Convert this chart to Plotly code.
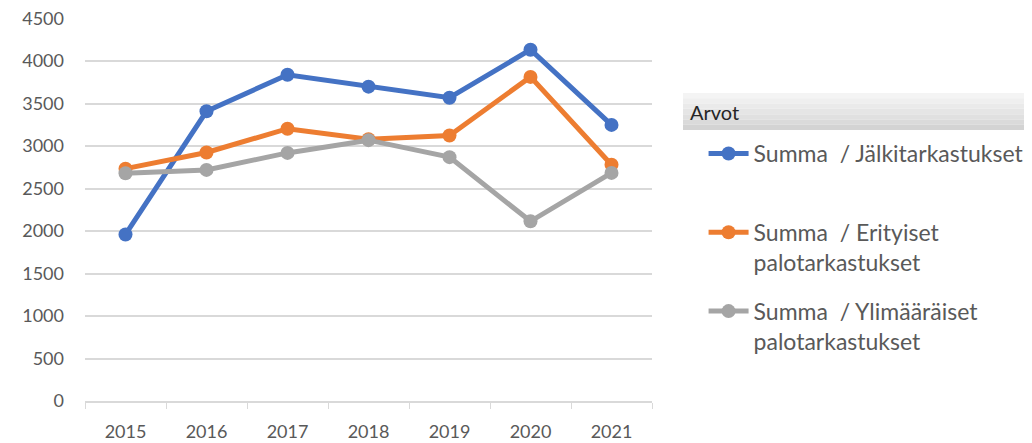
import plotly.graph_objects as go

years = ["2015", "2016", "2017", "2018", "2019", "2020", "2021"]
jalki = [1960, 3410, 3840, 3700, 3570, 4135, 3250]
erityiset = [2735, 2925, 3205, 3080, 3125, 3815, 2780]
ylimaaraiset = [2680, 2720, 2920, 3070, 2870, 2115, 2685]
series_names = [
    "Summa  / Jälkitarkastukset<br>&nbsp;",
    "Summa  / Erityiset<br>palotarkastukset",
    "Summa  / Ylimääräiset<br>palotarkastukset",
]
colors = ["#4472C4", "#ED7D31", "#A5A5A5"]
y_ticks = [0, 500, 1000, 1500, 2000, 2500, 3000, 3500, 4000, 4500]

FONT = "Lato"
TXT = "#595959"
W, H = 1032, 443
ML, MR, MT, MB = 77, 388, 10, 50
PW, PH = W - ML - MR, H - MT - MB

def px_x(x):  # figure pixel -> paper x
    return (x - ML) / PW

def px_y(y):  # figure pixel -> paper y
    return (H - MB - y) / PH

fig = go.Figure()
for i, (vals, name, col) in enumerate(zip([jalki, erityiset, ylimaaraiset], series_names, colors)):
    fig.add_trace(go.Scatter(
        x=years, y=vals, name=name, mode="lines+markers",
        line=dict(color=col, width=5),
        marker=dict(color=col, size=14),
        legendgroup=f"g{i}",
    ))

fig.update_layout(
    width=W, height=H,
    margin=dict(l=ML, r=MR, t=MT, b=MB),
    paper_bgcolor="white", plot_bgcolor="white",
    font=dict(family=FONT, size=17, color=TXT),
    showlegend=True,
    legend=dict(
        xref="container", yref="container",
        x=0.674, y=0.72, xanchor="left", yanchor="top",
        font=dict(family=FONT, size=23, color=TXT),
        tracegroupgap=16,
        itemwidth=40,
        valign="top",
        maxheight=440,
        bgcolor="rgba(0,0,0,0)",
    ),
    xaxis=dict(
        type="category", range=[-0.5, 6.5],
        showgrid=False, showline=True, linecolor="#d9d9d9", linewidth=1.5,
        ticks="outside", tickson="boundaries", ticklen=6, tickcolor="#d9d9d9",
        ticklabelstandoff=14,
        tickfont=dict(family=FONT, size=18, color=TXT),
    ),
    yaxis=dict(
        range=[0, 4508], tickvals=y_ticks,
        showgrid=True, gridcolor="#d9d9d9", gridwidth=1.5,
        zeroline=False, showline=False,
        ticklabelstandoff=20, ticklabeloverflow="allow",
        automargin=False,
        tickfont=dict(family=FONT, size=18, color=TXT),
    ),
)

# legend header "Arvot" with grey gradient-like band
x0, x1 = px_x(675), px_x(1035)
ytop, ybot = px_y(85), px_y(122)
steps = ["#f4f4f4", "#efefef", "#eaeaea", "#e5e5e5", "#e0e0e0", "#dadada", "#d3d3d3"]
h = (ytop - ybot) / len(steps)
for k, c in enumerate(steps):
    fig.add_shape(type="rect", xref="paper", yref="paper",
                  x0=x0, x1=x1, y0=ytop - (k + 1) * h, y1=ytop - k * h,
                  fillcolor=c, line=dict(width=0), layer="below")
fig.add_annotation(xref="paper", yref="paper", x=px_x(680), y=(ytop + ybot) / 2,
                   xanchor="left", yanchor="middle", showarrow=False,
                   text="Arvot", font=dict(family=FONT, size=20, color="#262626"))

fig.write_html("out.html")
